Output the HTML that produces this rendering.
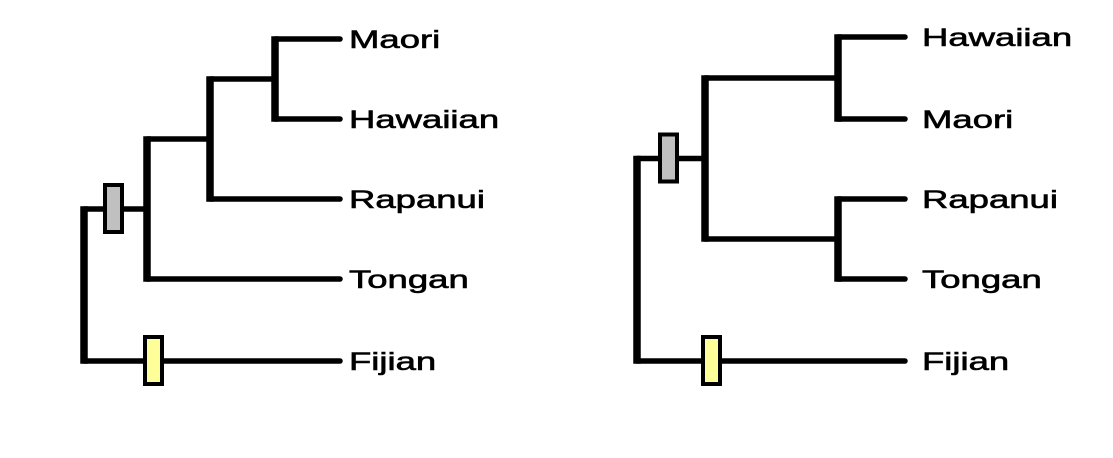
<!DOCTYPE html>
<html><head><meta charset="utf-8"><style>
html,body{margin:0;padding:0;background:#fff;width:1113px;height:458px;overflow:hidden}
svg{display:block}
text{font-family:"Liberation Sans",Arial,sans-serif;font-size:25px;fill:#000;stroke:#000;stroke-width:0.6}
</style></head><body>
<svg id="chart" width="1113" height="458" viewBox="0 0 1113 458"></svg>
<script>
const leftTaxa = ["Maori","Hawaiian","Rapanui","Tongan","Fijian"];
const leftLeafY = [39,119,199,279,361];
const rightTaxa = ["Hawaiian","Maori","Rapanui","Tongan","Fijian"];
const rightLeafY = [37,119,199,279,361];
const widthFactor = 1.46;

const NS="http://www.w3.org/2000/svg";
const svg=document.getElementById('chart');
function el(tag,attrs,parent){const e=document.createElementNS(NS,tag);for(const k in attrs)e.setAttribute(k,attrs[k]);(parent||svg).appendChild(e);return e;}
function hline(g,x1,x2,y){const l=el('line',{x1:x1,x2:x2,y1:y,y2:y,stroke:'#000','stroke-width':5.5,'stroke-linecap':'round'},g);

}
function vline(g,x,y1,y2){const l=el('line',{x1:x,x2:x,y1:y1-2.75,y2:y2+2.75,stroke:'#000','stroke-width':7.5},g);

}
function box(g,x,y,fill,name){const r=el('rect',{x:x,y:y,width:17,height:47,fill:fill,stroke:'#000','stroke-width':4},g);

}
function label(g,x,y,t){const tx=el('text',{x:x,y:y+9},g);tx.textContent=t;


const w=tx.getComputedTextLength();tx.setAttribute('textLength',w*widthFactor);tx.setAttribute('lengthAdjust','spacingAndGlyphs');}

const gL=el('g',{});


(function(){
 const Y=leftLeafY, tip=340, lx=349;
 const cC=275, cB=210, cA=147, root=84;
 const nodeC=(Y[0]+Y[1])/2;
 const nodeB=(nodeC+Y[2])/2;
 const nodeA=(nodeB+Y[3])/2;
 hline(gL,cC,tip,Y[0]);hline(gL,cC,tip,Y[1]);vline(gL,cC,Y[0],Y[1]);
 hline(gL,cB,cC,nodeC);hline(gL,cB,tip,Y[2]);vline(gL,cB,nodeC,Y[2]);
 hline(gL,cA,cB,nodeB);hline(gL,cA,tip,Y[3]);vline(gL,cA,nodeB,Y[3]);
 hline(gL,root,cA,nodeA);hline(gL,root,tip,Y[4]);vline(gL,root,nodeA,Y[4]);
 box(gL,105,nodeA-24,'#c0c0c0','gray-marker');
 box(gL,145,Y[4]-24,'#ffff99','yellow-marker');
 leftTaxa.forEach((t,i)=>label(gL,lx,Y[i],t));
})();

const gR=el('g',{});


(function(){
 const Y=rightLeafY, tip=905, lx=922;
 const cB=838, cA=705, root=637;
 const n1=(Y[0]+Y[1])/2, n2=(Y[2]+Y[3])/2, nA=(n1+n2)/2;
 hline(gR,cB,tip,Y[0]);hline(gR,cB,tip,Y[1]);vline(gR,cB,Y[0],Y[1]);
 hline(gR,cB,tip,Y[2]);hline(gR,cB,tip,Y[3]);vline(gR,cB,Y[2],Y[3]);
 hline(gR,cA,cB,n1);hline(gR,cA,cB,n2);vline(gR,cA,n1,n2);
 hline(gR,root,cA,nA);hline(gR,root,tip,Y[4]);vline(gR,root,nA,Y[4]);
 box(gR,660,nA-24,'#c0c0c0','gray-marker');
 box(gR,703,Y[4]-24,'#ffff99','yellow-marker');
 rightTaxa.forEach((t,i)=>label(gR,lx,Y[i],t));
})();
</script>
</body></html>
